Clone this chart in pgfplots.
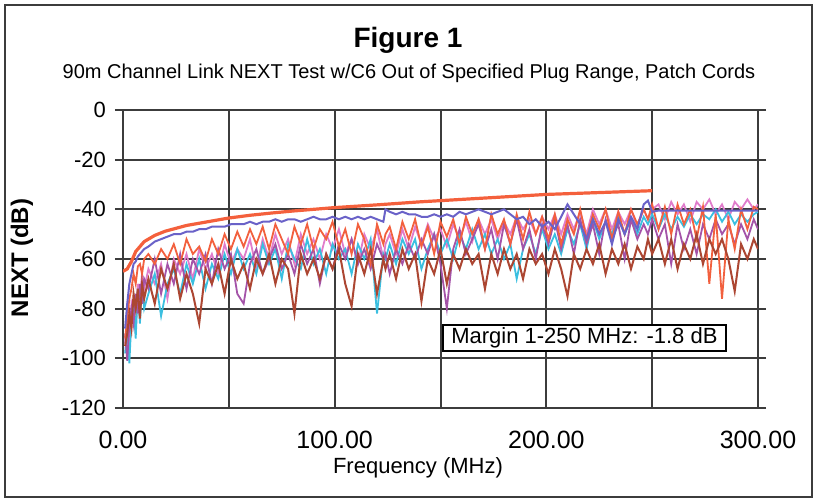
\documentclass[border=0pt]{standalone}
\usepackage{fontspec}
\setmainfont{Liberation Sans}
\usepackage{pgfplots}
\usepackage{pgfplotstable}
\pgfplotsset{compat=1.18}

\definecolor{limitred}{HTML}{F4603C}
\definecolor{cblue}{HTML}{6A62C8}
\definecolor{corange}{HTML}{F2603E}
\definecolor{cbrown}{HTML}{AC4632}
\definecolor{ccyan}{HTML}{3BBFE0}
\definecolor{cpurple}{HTML}{A453A8}
\definecolor{cpink}{HTML}{E07CCB}
\definecolor{gridgray}{HTML}{3C3C3C}

% limit line
\pgfplotstableread{
f    db
0    -65
2    -64
4    -61
6    -57
8    -55
10   -53
15   -50.5
20   -48.8
30   -46.5
40   -45
50   -43.5
60   -42.4
70   -41.5
80   -40.7
90   -40
100  -39.3
120  -38.2
140  -37
160  -36
180  -35
200  -34
220  -33.4
240  -32.8
250  -32.5
}\limitdata

% measured pairs: f, blue, orange, brown, cyan, purple, pink
\pgfplotstableread{
f    blue  orange brown cyan  purple pink
1    -88   -92   -95   -98   -90   -94
2    -78   -84   -90   -88   -101  -86
3    -70   -76   -82   -102  -86   -96
4    -66   -72   -88   -84   -80   -78
5    -62   -66   -74   -78   -86   -82
6    -61   -70   -80   -92   -74   -90
7    -59   -63   -72   -72   -82   -70
8    -58   -62   -84   -86   -70   -76
9    -57   -66   -70   -70   -78   -66
10   -56   -60   -76   -80   -68   -72
12   -55   -58   -68   -74   -72   -64
15   -53   -62   -78   -66   -60   -70
18   -52   -56   -64   -83   -74   -62
21   -51   -60   -72   -70   -62   -76
24   -50   -54   -62   -64   -70   -60
27   -50   -62   -76   -74   -58   -66
30   -49   -52   -66   -62   -72   -58
33   -49   -58   -74   -70   -60   -68
36   -48   -55   -86   -60   -66   -56
39   -48   -61   -64   -72   -58   -64
42   -47   -52   -70   -62   -70   -58
45   -47   -58   -62   -68   -56   -66
48   -47   -50   -74   -58   -64   -54
51   -46   -56   -60   -66   -58   -62
54   -46   -49   -68   -56   -74   -56
57   -46   -55   -62   -64   -78   -60
60   -45   -48   -72   -58   -62   -52
63   -46   -54   -60   -66   -56   -64
66   -45   -47   -66   -54   -66   -52
69   -45   -56   -58   -62   -60   -60
72   -44   -46   -70   -56   -54   -50
75   -45   -52   -60   -68   -64   -58
78   -44   -58   -64   -54   -58   -52
81   -44   -47   -82   -60   -66   -62
84   -45   -54   -58   -64   -54   -50
87   -44   -46   -66   -52   -62   -58
90   -43   -56   -60   -62   -56   -52
93   -44   -48   -68   -56   -70   -60
96   -44   -52   -58   -66   -58   -50
99   -43   -45   -64   -54   -64   -56
102  -44   -55   -56   -60   -54   -48
105  -43   -48   -70   -56   -60   -58
108  -44   -58   -79   -66   -52   -52
111  -43   -46   -58   -54   -62   -62
114  -44   -52   -66   -60   -56   -50
117  -43   -62   -56   -52   -64   -56
120  -44   -46   -74   -82   -54   -48
123  -45   -54   -60   -58   -60   -60
124  -40   -50   -64   -60   -58   -54
126  -41   -47   -58   -54   -66   -50
129  -42   -56   -68   -62   -56   -58
132  -41   -45   -56   -52   -62   -48
135  -42   -52   -64   -58   -54   -56
138  -42   -44   -58   -52   -60   -47
141  -43   -55   -77   -64   -52   -54
144  -43   -47   -60   -56   -58   -46
147  -42   -58   -66   -50   -50   -52
150  -43   -45   -56   -58   -62   -48
153  -42   -51   -70   -52   -80   -55
156  -43   -44   -58   -60   -56   -46
159  -41   -54   -64   -50   -48   -52
162  -42   -43   -56   -56   -58   -45
165  -41   -50   -62   -48   -52   -53
168  -40   -44   -58   -56   -46   -44
171  -41   -56   -72   -50   -56   -50
174  -42   -42   -58   -58   -48   -44
177  -41   -50   -66   -52   -60   -52
180  -40   -44   -56   -60   -46   -45
183  -42   -54   -64   -54   -54   -50
186  -44   -42   -58   -68   -44   -43
189  -43   -52   -68   -56   -56   -48
192  -46   -41   -56   -50   -48   -44
195  -44   -50   -62   -58   -60   -50
198  -47   -43   -58   -48   -46   -43
201  -45   -52   -66   -56   -54   -48
204  -48   -42   -56   -50   -44   -42
207  -43   -54   -64   -58   -56   -50
210  -38   -44   -75   -48   -46   -42
213  -42   -50   -58   -54   -58   -48
216  -46   -40   -64   -46   -44   -41
219  -52   -52   -56   -56   -54   -50
222  -44   -42   -62   -44   -46   -40
225  -50   -48   -54   -52   -58   -46
228  -45   -40   -66   -45   -44   -40
231  -54   -52   -56   -50   -52   -48
234  -44   -41   -62   -43   -46   -41
237  -50   -50   -54   -50   -60   -46
240  -43   -40   -64   -44   -44   -40
243  -48   -46   -55   -50   -52   -47
246  -38   -40   -60   -43   -46   -40
248  -36.5 -44   -52   -46   -50   -44
250  -41   -38   -58   -42   -44   -40
253  -40.5 -48   -52   -48   -52   -38
256  -40.5 -39   -62   -42   -46   -44
259  -40.5 -50   -52   -48   -62   -37
262  -40.5 -38   -64   -43   -46   -42
265  -40.5 -46   -54   -47   -56   -38
268  -40.5 -40   -60   -42   -48   -45
271  -40.5 -52   -50   -46   -58   -37
274  -40.5 -39   -62   -42   -46   -40
277  -40.5 -70   -52   -44   -52   -36
280  -40.5 -42   -58   -40   -44   -42
283  -40.5 -76   -52   -45   -50   -38
286  -40.5 -44   -60   -41   -46   -44
289  -40.5 -56   -73   -46   -54   -37
292  -40.5 -40   -54   -42   -46   -40
295  -40.5 -48   -60   -45   -52   -36
298  -40.5 -39   -52   -42   -44   -40
300  -40.5 -40   -56   -41   -48   -38
}\pairdata

\begin{document}
\begin{tikzpicture}
\useasboundingbox (-61.5pt,-47pt) rectangle (347pt,204pt);
\begin{axis}[
    at={(0pt,0pt)}, anchor=south west,
    scale only axis,
    width=317.5pt, height=149pt,
    xmin=0, xmax=300, ymin=-120, ymax=0,
    xtick={0,50,100,150,200,250,300},
    xticklabels={0.00,,100.00,,200.00,,300.00},
    ytick={0,-20,-40,-60,-80,-100,-120},
    yticklabels={0,-20,-40,-60,-80,-100,-120},
    grid=major,
    major grid style={gridgray, line width=1pt},
    axis line style={gridgray, line width=1pt},
    tick align=outside,
    major tick length=4pt,
    xtick style={draw=none},
    ytick style={gridgray, line width=1pt},
    ticklabel style={font=\fontsize{11}{13}\selectfont},
    xticklabel style={font=\fontsize{12.5}{15}\selectfont, yshift=-4pt},
    yticklabel style={xshift=-1pt},
]
\addplot[cpink, line width=0.9pt] table[x=f, y=pink] {\pairdata};
\addplot[ccyan, line width=0.9pt] table[x=f, y=cyan] {\pairdata};
\addplot[cpurple, line width=0.9pt] table[x=f, y=purple] {\pairdata};
\addplot[corange, line width=0.9pt] table[x=f, y=orange] {\pairdata};
\addplot[cbrown, line width=1pt] table[x=f, y=brown] {\pairdata};
\addplot[cblue, line width=1pt] table[x=f, y=blue] {\pairdata};
\addplot[limitred, line width=1.6pt] table[x=f, y=db] {\limitdata};
\node[draw=black, fill=white, line width=0.8pt, inner sep=0pt,
      minimum width=141.5pt, minimum height=13pt,
      font=\fontsize{11}{13}\selectfont]
      at (axis cs:218,-91.8) {Margin 1-250 MHz: -1.8 dB};
\end{axis}
\node[font=\bfseries\fontsize{14}{16}\selectfont] at (142.5pt,184pt) {Figure 1};
\node[font=\fontsize{10}{12}\selectfont] at (143pt,167.5pt)
  {90m Channel Link NEXT Test w/C6 Out of Specified Plug Range, Patch Cords};
\node[font=\bfseries\fontsize{12}{14}\selectfont, rotate=90] at (-50.5pt,75pt) {NEXT (dB)};
\node[font=\fontsize{11}{13}\selectfont] at (147.5pt,-30pt) {Frequency (MHz)};
\draw[gridgray, line width=1pt] (-59pt,-44.5pt) rectangle (344.5pt,201.5pt);
\end{tikzpicture}
\end{document}
